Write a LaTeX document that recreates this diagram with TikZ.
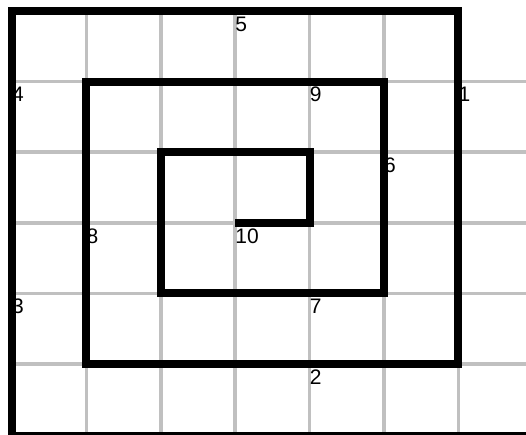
\documentclass[tikz,border=0pt]{standalone}
\usepackage{fontspec}
\setmainfont{Liberation Sans}
\definecolor{gridgray}{RGB}{192,192,192}
\begin{document}
\begin{tikzpicture}[x=1pt,y=-1pt,
  gridline/.style={draw=gridgray,line width=3.5pt},
  spiral/.style={draw=black,line width=8pt,line join=miter},
  lbl/.style={anchor=north west,inner sep=0pt,font=\fontsize{21}{21}\selectfont}]
\useasboundingbox (0,0) rectangle (526,434);
\fill[white] (0,0) rectangle (526,434);
% grid coordinates
\foreach \i in {0,...,6} {
  \pgfmathsetmacro{\xx}{12+74.4*\i}
  \pgfmathsetmacro{\yy}{11+70.6*\i}
  \coordinate (X\i) at (\xx,0);
  \coordinate (Y\i) at (0,\yy);
}
% gray grid
\foreach \i in {1,...,6} {
  \draw[gridline] (X\i |- Y0) -- (X\i |- 0,440);
}
\foreach \j in {1,...,5} {
  \draw[gridline] (X0 |- Y\j) -- (530,0 |- Y\j);
}
% labels
\node[lbl] (l5)  at ([yshift=-5.5pt]X3 |- Y0) {5};
\node[lbl] (l4)  at ([yshift=-5.5pt]X0 |- Y1) {4};
\node[lbl] (l9)  at ([yshift=-5.5pt]X4 |- Y1) {9};
\node[lbl] (l1)  at ([yshift=-5.5pt]X6 |- Y1) {1};
\node[lbl] (l6)  at ([yshift=-5.5pt]X5 |- Y2) {6};
\node[lbl] (l10) at ([yshift=-5.5pt]X3 |- Y3) {10};
\node[lbl] (l8)  at ([yshift=-5.5pt]X1 |- Y3) {8};
\node[lbl] (l3)  at ([yshift=-5.5pt]X0 |- Y4) {3};
\node[lbl] (l7)  at ([yshift=-5.5pt]X4 |- Y4) {7};
\node[lbl] (l2)  at ([yshift=-5.5pt]X4 |- Y5) {2};
% spiral
\coordinate (start) at (540,436);
\draw[spiral] (start) -- (X0 |- start) -- (X0 |- Y0) -- (X6 |- Y0) -- (X6 |- Y5)
  -- (X1 |- Y5) -- (X1 |- Y1) -- (X5 |- Y1) -- (X5 |- Y4) -- (X2 |- Y4)
  -- (X2 |- Y2) -- (X4 |- Y2) -- (X4 |- Y3) -- (X3 |- Y3);
\end{tikzpicture}
\end{document}
